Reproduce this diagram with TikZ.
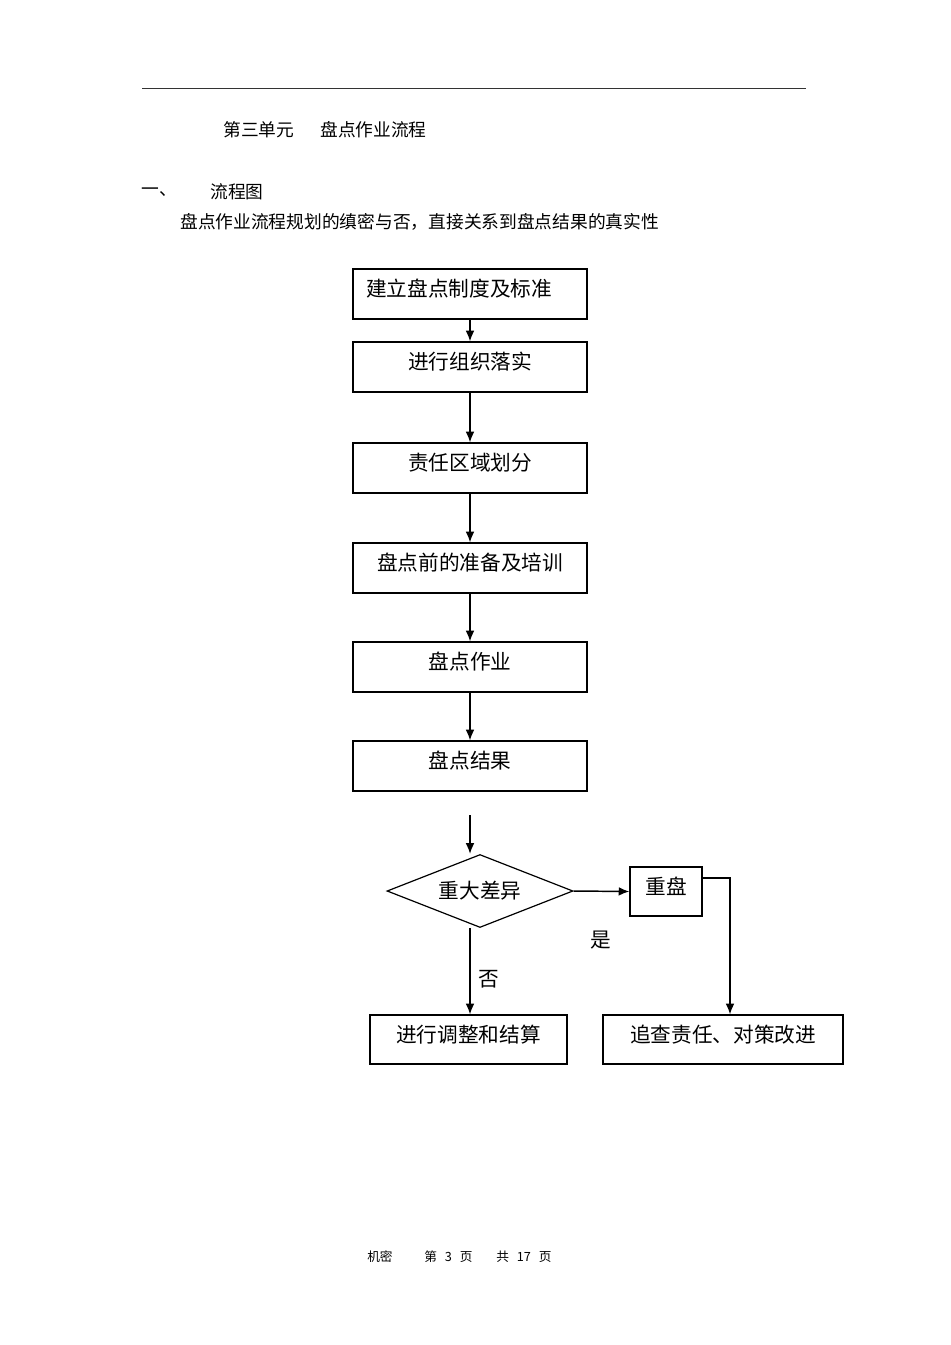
\documentclass[tikz,border=0pt]{standalone}
\usepackage{fontspec}
\setmainfont{Noto Sans CJK SC}
\usetikzlibrary{arrows.meta,shapes.geometric}
\begin{document}
\begin{tikzpicture}[x=0.75pt,y=-0.75pt,
  box/.style={draw=black, line width=0.9pt, minimum width=175.5pt, minimum height=37.5pt,
    inner sep=0pt, text height=0.88em, text depth=0.5em, font=\fontsize{15.5pt}{18pt}\selectfont},
  arr/.style={line width=1.1pt, -{Latex[length=8pt,width=6.5pt]}},
  txt/.style={inner sep=0pt, anchor=west, font=\fontsize{13.3pt}{16pt}\selectfont},
  lbl/.style={inner sep=0pt, font=\fontsize{15.5pt}{18pt}\selectfont},
  foot/.style={inner sep=0pt, anchor=west, font=\fontsize{9.5pt}{12pt}\selectfont}]
\useasboundingbox (0,0) rectangle (950,1345);
% header rule
\coordinate (hl) at (142,88);
\coordinate (hr) at (806,88);
\draw[line width=0.6pt, black!80] (hl) -- (hr);
% heading texts
\node[txt] (t1) at (223,130) {第三单元};
\node[txt] (t2) at (320,130) {盘点作业流程};
\node[txt] (t3) at (141,192) {一、};
\node[txt] (t4) at (210,192) {流程图};
\node[txt] (t5) at (180,222) {盘点作业流程规划的缜密与否，直接关系到盘点结果的真实性};
% boxes
\node[box, text width=156pt, align=left] (b1) at (470,294) {建立盘点制度及标准};
\node[box] (b2) at (470,367) {进行组织落实};
\node[box] (b3) at (470,468) {责任区域划分};
\node[box] (b4) at (470,568) {盘点前的准备及培训};
\node[box] (b5) at (470,667) {盘点作业};
\node[box] (b6) at (470,766) {盘点结果};
\draw[arr] (b1) -- (b2);
\draw[arr] (b2) -- (b3);
\draw[arr] (b3) -- (b4);
\draw[arr] (b4) -- (b5);
\draw[arr] (b5) -- (b6);
% decision
\node[diamond, aspect=2.55, draw=black, line width=0.9pt, minimum width=139.5pt, minimum height=54.75pt,
  inner sep=0pt, font=\fontsize{15.5pt}{18pt}\selectfont] (d) at (480,891) {重大差异};
\coordinate (s6) at (470,815);
\draw[arr] (s6) -- (s6 |- d.north);
\node[box, minimum width=54pt, minimum height=36.75pt] (cp) at (666,891.5) {重盘};
\draw[arr] (d.east) -- (cp.west);
\node[box, minimum width=147.75pt, minimum height=36.75pt] (bl) at (468.5,1039.5) {进行调整和结算};
\node[box, minimum width=180pt, minimum height=36.75pt] (br) at (723,1039.5) {追查责任、对策改进};
\draw[arr] (d.south -| s6) -- (s6 |- bl.north);
\coordinate (turn) at (730,878);
\draw[arr] (cp.east |- turn) -- (turn) -- (turn |- br.north);
\node[lbl] (yes) at (601,940) {是};
\node[lbl] (no) at (489,979) {否};
% footer
\node[foot] (f1) at (367,1257) {机密};
\node[foot] (f2) at (424,1257) {第\hskip6pt3\hskip6pt页};
\node[foot] (f3) at (496,1257) {共\hskip6pt17\hskip6pt页};
\end{tikzpicture}
\end{document}
